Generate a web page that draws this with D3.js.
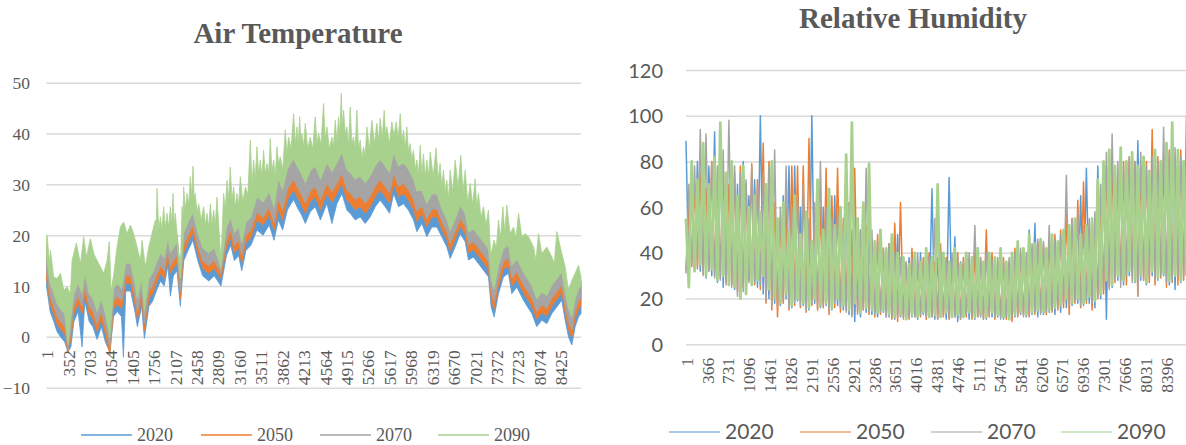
<!DOCTYPE html>
<html>
<head>
<meta charset="utf-8">
<script src="https://cdn.jsdelivr.net/npm/d3@7"></script>
<style>
  body { margin: 0; background: #fff; }
  svg { display: block; }
</style>
</head>
<body>
<svg id="chart" width="1186" height="445"></svg>
<script>
const years = ['2020', '2050', '2070', '2090'];
const colors = ['#5b9bd5', '#ed7d31', '#a5a5a5', '#a9d18e'];

// x axis category labels (hour index)
const tempTicks = d3.range(1, 8761, 351);
const rhTicks = d3.range(1, 8761, 365);
const tempYTicks = [-10, 0, 10, 20, 30, 40, 50];
const rhYTicks = [0, 20, 40, 60, 80, 100, 120];

// ---- Air temperature, lower envelopes ----
const tempLoHours = [1, 60, 120, 175, 230, 300, 352, 400, 450, 520,
  584, 630, 700, 760, 830, 900, 966, 1040, 1100, 1160,
  1230, 1261, 1300, 1380, 1450, 1490, 1560, 1605, 1680, 1740,
  1800, 1870, 1930, 1990, 2031, 2080, 2140, 2194, 2250, 2320,
  2400, 2480, 2560, 2660, 2750, 2860, 2950, 3020, 3080, 3150,
  3200, 3270, 3350, 3450, 3550, 3650, 3730, 3800, 3870, 3950,
  4050, 4105, 4180, 4242, 4323, 4405, 4490, 4596, 4678, 4760,
  4842, 4924, 4978, 5060, 5142, 5224, 5306, 5388, 5469, 5550,
  5623, 5690, 5770, 5852, 5933, 6016, 6070, 6152, 6234, 6316,
  6398, 6479, 6561, 6616, 6698, 6780, 6862, 6916, 6998, 7080,
  7162, 7244, 7287, 7336, 7408, 7489, 7571, 7626, 7708, 7817,
  7900, 7954, 8035, 8118, 8200, 8282, 8364, 8445, 8500, 8555,
  8610, 8664, 8719, 8760];

const tempLo2020 = [10, 5, 3, 1, 0, -1, -3, -2, 3, 5,
  -2, 7, 3, 2, -0.5, 2, -1, -3, 4, 5,
  4, -4, 9, 9, 5, 2, 6, -0.3, 6, 7,
  9, 11, 10, 14, 8, 12, 13, 6, 15, 17,
  19, 15, 12, 11, 12, 10, 16, 18, 15, 16,
  13, 17, 18, 21, 20, 22, 19, 23, 21, 25,
  27, 25.6, 24, 22.3, 24.6, 25.6, 23, 26.2, 22.3, 26.2,
  28.2, 24.9, 24.3, 23, 23.6, 22.3, 23.6, 25.6, 26.9, 25.6,
  24.3, 28.2, 25.6, 26.2, 24.9, 23, 20.7, 22.3, 19.7, 21.6,
  21.6, 19.7, 17.7, 15.4, 17.7, 20.3, 18.7, 15.1, 15.7, 14.4,
  13.1, 11.8, 5.9, 3.9, 8.5, 11.8, 12.5, 8.5, 9.8, 7.2,
  5.6, 4.6, 2, 3.3, 2.6, 4.6, 5.9, 7.2, 3.3, 0,
  -1.6, 2, 3.9, 4.6];

const tempLo2050 = [11.5, 6.5, 4.5, 2.5, 1.5, 0.5, -3, -0.5, 4.5, 6.5,
  4.5, 8.5, 4.5, 3.5, 1, 3.5, 0.5, -3.5, 5.5, 6.5,
  5.5, 7.5, 10.5, 10.5, 6.5, 3.5, 7.5, 1.2, 7.5, 8.5,
  10.5, 12.5, 11.5, 15.5, 12.5, 13.5, 14.5, 7.5, 16.5, 18.5,
  20.5, 16.5, 13.5, 12.5, 13.5, 11.5, 17.5, 19.5, 16.5, 17.5,
  14.5, 18.5, 19.5, 23, 22, 24, 21, 25, 23, 27,
  29, 27.6, 26, 24.3, 26.6, 27.6, 25, 28.2, 26.5, 28.2,
  30.2, 26.9, 26.3, 25, 25.6, 24.3, 25.6, 27.6, 28.9, 27.6,
  26.3, 30.2, 27.6, 28.2, 26.9, 25, 22.7, 24.3, 21.7, 23.6,
  23.6, 21.2, 19.2, 16.9, 19.2, 21.8, 20.2, 16.6, 17.2, 15.9,
  14.6, 13.3, 7.4, 5.4, 10, 13.3, 14, 10, 11.3, 8.7,
  7.1, 6.1, 3.5, 4.8, 4.1, 6.1, 7.4, 8.7, 4.8, 1.5,
  -0.1, 3.5, 5.4, 6.1];

const tempLo2070 = [13, 8, 6, 4, 3, 2, -2.5, 1, 6, 8,
  6, 10, 6, 5, 2.5, 5, 2, -2, 7, 8,
  7, 9, 12, 12, 8, 5, 9, 2.7, 9, 10,
  12, 14, 13, 17, 14, 15, 16, 9, 18, 20,
  22, 18, 15, 14, 15, 12.5, 19, 21, 18, 19,
  16, 20, 21, 24.5, 23.5, 25.5, 22.5, 27, 25, 29,
  31, 29.6, 28, 26.3, 28.6, 29.6, 27, 30.2, 28.5, 30.2,
  32.2, 28.9, 28.3, 27, 27.6, 26.3, 27.6, 29.6, 30.9, 29.6,
  28.3, 32.2, 29.6, 30.2, 28.9, 27, 24.7, 25.8, 23.2, 25.1,
  25.1, 22.7, 20.7, 18.4, 20.7, 23.3, 21.7, 18.1, 18.7, 17.4,
  16.1, 14.8, 8.9, 6.9, 11.5, 14.8, 15.5, 11.5, 12.8, 10.2,
  8.6, 7.6, 5, 6.3, 5.6, 7.6, 8.9, 10.2, 6.3, 3,
  1.4, 5, 6.9, 7.6];

const tempLo2090 = [15.5, 10.5, 8.5, 6.5, 5.5, 4.5, -1.5, 3.5, 8.5, 10.5,
  8.5, 12.5, 8.5, 7.5, 5, 7.5, 4.5, 0, 9.5, 10.5,
  9.5, 11.5, 14.5, 14.5, 10.5, 7.5, 11.5, 5.2, 11.5, 12.5,
  14.5, 16.5, 15.5, 19.5, 16.5, 17.5, 18.5, 11.5, 20.5, 22.5,
  24.5, 20.5, 17.5, 16.5, 17.5, 13.5, 21.5, 23.5, 20.5, 21.5,
  18.5, 22.5, 23.5, 27.5, 26.5, 28.5, 25.5, 31, 29, 33,
  35, 33.6, 32, 30.3, 32.6, 33.6, 31, 34.2, 32.5, 34.2,
  36.2, 32.9, 32.3, 31, 31.6, 30.3, 31.6, 33.6, 34.9, 33.6,
  32.3, 36.2, 33.6, 34.2, 32.9, 31, 28.7, 28.8, 26.2, 28.1,
  28.1, 25.2, 23.2, 20.9, 23.2, 25.8, 24.2, 20.6, 21.2, 19.9,
  18.6, 17.3, 11.4, 9.4, 14, 17.3, 18, 14, 15.3, 12.7,
  11.1, 10.1, 7.5, 8.8, 8.1, 10.1, 11.4, 12.7, 8.8, 5.5,
  3.9, 7.5, 9.4, 10.1];

// upper envelopes of 2020-2070 are hidden under the 2090 band (estimated)
const tempHi2020 = [17, 12, 10, 8, 7, 6, 0, 5, 10, 12,
  10, 14, 10, 9, 6.5, 9, 6, 1.5, 11, 12,
  11, 13, 16, 16, 12, 9, 13, 6.7, 13, 14,
  16, 18, 17, 21, 18, 19, 19.5, 12, 22, 24,
  26, 22, 19, 18, 19, 14, 23, 25, 22, 23,
  20, 24, 25, 29, 28, 30, 27, 32.5, 30.5, 34.5,
  36.5, 35.1, 33.5, 31.8, 34.1, 35.1, 32.5, 35.7, 34, 35.7,
  37.7, 34.4, 33.8, 32.5, 33.1, 31.8, 33.1, 35.1, 36.4, 35.1,
  33.8, 37.7, 35.1, 35.7, 34.4, 32.5, 30.2, 30.3, 27.7, 29.6,
  29.6, 26.7, 24.7, 22.4, 24.7, 27.3, 25.7, 22.1, 22.7, 21.4,
  20.1, 18.8, 12.9, 10.9, 15.5, 18.8, 19.5, 15.5, 16.8, 14.2,
  12.6, 11.6, 9, 10.3, 9.6, 11.6, 12.9, 14.2, 10.3, 7,
  5.4, 9, 10.9, 10.6];

const tempHi2050 = [17.5, 12.5, 10.5, 8.5, 7.5, 6.5, 0.5, 5.5, 10.5, 12.5,
  10.5, 14.5, 10.5, 9.5, 7, 9.5, 6.5, 2, 11.5, 12.5,
  11.5, 13.5, 16.5, 16.5, 12.5, 9.5, 13.5, 7.2, 13.5, 14.5,
  16.5, 18.5, 17.5, 21.5, 18.5, 19.5, 19.8, 12.5, 22.5, 24.5,
  26.5, 22.5, 19.5, 18.5, 19.5, 14.3, 23.5, 25.5, 22.5, 23.5,
  20.5, 24.5, 25.5, 29.5, 28.5, 30.5, 27.5, 33, 31, 35,
  37, 35.6, 34, 32.3, 34.6, 35.6, 33, 36.2, 34.5, 36.2,
  38.2, 34.9, 34.3, 33, 33.6, 32.3, 33.6, 35.6, 36.9, 35.6,
  34.3, 38.2, 35.6, 36.2, 34.9, 33, 30.7, 30.8, 28.2, 30.1,
  30.1, 27.2, 25.2, 22.9, 25.2, 27.8, 26.2, 22.6, 23.2, 21.9,
  20.6, 19.3, 13.4, 11.4, 16, 19.3, 20, 16, 17.3, 14.7,
  13.1, 12.1, 9.5, 10.8, 10.1, 12.1, 13.4, 14.7, 10.8, 7.5,
  5.9, 9.5, 11.4, 10.8];

const tempHi2070 = [18, 13, 11, 9, 8, 7, 1, 6, 11, 13,
  11, 15, 11, 10, 7.5, 10, 7, 2.5, 11.8, 13,
  12, 14, 17, 17, 13, 10, 14, 7.7, 14, 15,
  17, 19, 18, 22, 19, 20, 20, 12.8, 23, 25,
  27, 23, 20, 19, 20, 14.6, 24, 26, 23, 24,
  21, 25, 26, 30, 29, 31, 28, 33.5, 31.5, 35.5,
  37.5, 36.1, 34.5, 32.8, 35.1, 36.1, 33.5, 36.7, 35, 36.7,
  38.7, 35.4, 34.8, 33.5, 34.1, 32.8, 34.1, 36.1, 37.4, 36.1,
  34.8, 38.7, 36.1, 36.7, 35.4, 33.5, 31.2, 31.3, 28.7, 30.6,
  30.6, 27.7, 25.7, 23.4, 25.7, 28.3, 26.7, 23.1, 23.7, 22.4,
  21.1, 19.8, 13.9, 11.9, 16.5, 19.8, 20.5, 16.5, 17.8, 15.2,
  13.6, 12.6, 10, 11.3, 10.6, 12.6, 13.9, 15.2, 11.3, 8,
  6.4, 10, 11.9, 11];

// 2090 upper envelope, spikes and the gaps between them: [hour, value]
const tempHi2090 = [[1, 20], [11, 20], [50, 14.4], [65, 17], [120, 11.8], [175, 11.5], [230, 12.5],
  [284, 9.2], [338, 9.8], [393, 8.5], [420, 15], [490, 18.5], [557, 14.4], [611, 19.7], [655, 15.7],
  [720, 19.3], [775, 16.4], [830, 15], [884, 13.8], [939, 12.5], [993, 15], [1030, 18.7], [1060, 9],
  [1100, 12], [1157, 17.7], [1212, 21.6], [1266, 22.6], [1321, 20.3], [1376, 22], [1430, 20.3],
  [1485, 17.7], [1539, 15], [1567, 19], [1621, 13.8], [1676, 17.7], [1730, 20.3], [1785, 23],
  [1798, 20], [1812, 29.2], [1840, 21], [1867, 23.6], [1894, 21], [1921, 25.6], [1948, 21.5],
  [1976, 24.3], [2003, 21.5], [2031, 25.6], [2052, 22], [2074, 28.2], [2093, 22], [2112, 24.3],
  [2194, 13], [2222, 25.6], [2236, 23], [2249, 29.5], [2276, 25], [2304, 28.2], [2331, 26],
  [2358, 31.5], [2380, 27.5], [2402, 33.6], [2421, 27], [2440, 28.2], [2467, 24.5], [2495, 26.2],
  [2536, 23], [2577, 25.6], [2604, 22], [2631, 24.3], [2658, 21.5], [2686, 26.2], [2713, 22],
  [2740, 24.9], [2767, 22], [2795, 27.5], [2860, 15], [2904, 28.2], [2931, 25], [2959, 30.8],
  [2986, 27], [3013, 33.4], [3040, 27], [3068, 29.5], [3095, 25.5], [3122, 28.2], [3150, 26],
  [3177, 31.5], [3218, 26.5], [3259, 29.5], [3300, 28], [3341, 38.7], [3368, 30], [3395, 34.8],
  [3422, 31], [3450, 37.4], [3477, 32], [3504, 34.8], [3531, 31.5], [3559, 36.7], [3586, 32],
  [3614, 34.1], [3641, 32], [3668, 39], [3695, 32.5], [3723, 34.8], [3750, 31.5], [3777, 37.4],
  [3804, 34], [3832, 35.4], [3873, 33], [3914, 40.7], [3941, 36], [3968, 39.3], [4009, 37],
  [4050, 43.9], [4077, 38], [4105, 41.3], [4127, 38], [4150, 43.3], [4168, 38.5], [4187, 40],
  [4214, 37.5], [4242, 42], [4282, 37], [4323, 39.3], [4364, 37], [4405, 43.3], [4432, 38],
  [4459, 40], [4500, 38], [4541, 45.9], [4568, 39], [4596, 41.3], [4637, 37], [4678, 39.3],
  [4705, 37.5], [4733, 42.6], [4760, 38.5], [4787, 43.3], [4809, 40], [4831, 47.9], [4850, 41],
  [4869, 44.6], [4896, 40], [4924, 41.3], [4951, 37.5], [4978, 45.2], [5005, 38], [5033, 39.3],
  [5060, 37], [5087, 44.6], [5114, 37], [5142, 38.7], [5170, 35], [5197, 37.4], [5224, 35.5],
  [5251, 41.3], [5292, 37], [5333, 42.6], [5374, 38], [5415, 42], [5442, 38.5], [5469, 43],
  [5502, 39], [5535, 44.6], [5557, 39.5], [5579, 41.3], [5620, 38], [5661, 42.3], [5696, 39.5],
  [5732, 42.3], [5764, 39], [5797, 43.9], [5824, 38.5], [5852, 40.7], [5879, 37], [5906, 41.3],
  [5933, 36.5], [5961, 38], [5988, 35], [6016, 36.7], [6043, 33], [6070, 34.8], [6097, 32],
  [6125, 37.7], [6152, 32], [6179, 36], [6206, 31.5], [6234, 34.8], [6261, 31.5], [6289, 36.4],
  [6337, 31.5], [6385, 37.2], [6418, 31], [6452, 34.1], [6479, 29.5], [6507, 32.8], [6534, 28.5],
  [6561, 30.8], [6588, 27], [6616, 32.8], [6657, 28.5], [6698, 34.8], [6745, 29.5], [6791, 35.7],
  [6826, 28.5], [6862, 32.8], [6903, 26.5], [6944, 30.2], [6985, 26], [7025, 31.1], [7052, 25.5],
  [7080, 28.2], [7121, 23.5], [7162, 25.6], [7203, 22], [7244, 24.9], [7280, 16], [7336, 19],
  [7372, 17.5], [7408, 23], [7443, 19.5], [7479, 25.6], [7511, 20.5], [7544, 25.9], [7599, 20.3],
  [7654, 21.6], [7695, 19.5], [7736, 24.3], [7790, 19.7], [7845, 20.3], [7900, 19.7], [7982, 17.7],
  [8022, 15], [8063, 20.3], [8118, 16.4], [8200, 17.7], [8282, 15.7], [8323, 14.5], [8364, 20.7],
  [8445, 16.4], [8500, 13.8], [8555, 9.2], [8610, 11.1], [8664, 12.5], [8719, 14.1], [8760, 11.8]];

// ---- Relative humidity: highs and lows ----
const rhHoursA = d3.range(1, 8760, 100);
const rhHoursB = d3.range(51, 8760, 100);

const rhHi2020 = [89, 75, 80, 70, 78, 93, 85, 72, 80, 70,
  80, 65, 72, 100, 60, 72, 50, 65, 78, 78,
  60, 55, 100, 55, 60, 50, 65, 55, 60, 50,
  55, 45, 48, 40, 44, 38, 40, 48, 35, 38,
  34, 40, 36, 68, 38, 35, 73, 47, 36, 38,
  34, 40, 36, 38, 35, 40, 36, 38, 40, 42,
  50, 53, 45, 42, 46, 44, 48, 50, 52, 65,
  77, 50, 78, 75, 80, 76, 80, 78, 82, 89,
  80, 76, 82, 78, 84, 80, 82, 78];
const rhLo2020 = [30, 33, 32, 29, 30, 27, 25, 28, 24, 22,
  24, 27, 25, 22, 20, 18, 17, 20, 16, 19,
  17, 15, 18, 16, 17, 15, 17, 15, 13, 10,
  12, 14, 13, 12, 14, 12, 11, 12, 11, 12,
  11, 13, 12, 11, 12, 11, 12, 10, 12, 11,
  11, 12, 11, 12, 12, 11, 12, 12, 13, 12,
  13, 12, 13, 14, 13, 14, 16, 17, 18, 17,
  18, 16, 20, 11, 25, 28, 26, 30, 27, 28,
  26, 30, 28, 30, 26, 24, 27, 30];

const rhHi2050 = [60, 70, 75, 68, 80, 72, 78, 70, 75, 78,
  70, 79, 72, 88, 80, 62, 55, 60, 78, 78,
  78, 90, 60, 60, 77, 65, 77, 55, 62, 77,
  50, 52, 45, 48, 42, 44, 53, 62, 36, 42,
  35, 38, 40, 36, 44, 38, 36, 40, 38, 36,
  40, 38, 50, 40, 36, 38, 36, 42, 40, 38,
  42, 45, 44, 46, 48, 50, 58, 55, 63, 71,
  52, 50, 60, 78, 80, 75, 80, 82, 80, 78,
  80, 94, 82, 80, 85, 82, 85, 100];
const rhLo2050 = [32, 34, 33, 31, 32, 30, 29, 27, 26, 23,
  25, 28, 26, 24, 18, 15, 12, 18, 15, 17,
  16, 14, 17, 15, 16, 13, 16, 14, 15, 13,
  14, 15, 13, 12, 13, 12, 11, 10, 12, 11,
  12, 12, 11, 12, 11, 12, 11, 12, 11, 12,
  11, 12, 11, 12, 11, 12, 11, 10, 12, 13,
  12, 13, 14, 13, 14, 15, 16, 13, 18, 16,
  18, 15, 20, 22, 25, 27, 28, 26, 30, 21,
  28, 27, 26, 29, 25, 27, 26, 28];

const rhHi2070 = [70, 78, 94, 92, 80, 78, 85, 98, 78, 75,
  72, 78, 70, 75, 78, 85, 60, 78, 60, 65,
  70, 55, 62, 80, 60, 55, 58, 50, 62, 55,
  50, 77, 50, 45, 42, 44, 40, 38, 36, 38,
  40, 36, 38, 55, 40, 37, 40, 38, 36, 40,
  52, 38, 40, 37, 38, 36, 38, 40, 42, 40,
  44, 46, 45, 52, 46, 48, 74, 55, 58, 52,
  55, 58, 70, 84, 92, 80, 78, 82, 80, 84,
  78, 82, 80, 95, 84, 86, 82, 84];
const rhLo2070 = [31, 35, 34, 30, 32, 29, 28, 26, 25, 21,
  23, 27, 27, 26, 19, 17, 16, 19, 16, 18,
  17, 15, 18, 16, 17, 15, 18, 16, 14, 12,
  13, 15, 14, 13, 14, 12, 12, 12, 11, 12,
  12, 13, 12, 12, 11, 13, 12, 12, 11, 13,
  12, 12, 11, 13, 12, 11, 12, 12, 13, 12,
  13, 14, 13, 14, 15, 16, 18, 17, 19, 17,
  19, 18, 21, 24, 24, 28, 25, 30, 27, 22,
  28, 30, 28, 30, 27, 28, 30, 29];

const rhHi2090 = [55, 80, 72, 88, 70, 82, 97, 75, 80, 65,
  78, 60, 65, 58, 70, 80, 55, 62, 50, 65,
  48, 58, 45, 72, 50, 68, 52, 60, 83, 97,
  55, 62, 79, 45, 50, 42, 48, 40, 38, 35,
  40, 36, 42, 38, 70, 40, 36, 42, 35, 40,
  38, 42, 36, 40, 38, 42, 36, 40, 45, 42,
  48, 44, 46, 42, 48, 45, 50, 52, 55, 48,
  52, 55, 72, 80, 85, 78, 86, 80, 84, 78,
  82, 75, 85, 80, 88, 97, 85, 80];
const rhLo2090 = [25, 32, 35, 30, 33, 28, 30, 26, 25, 20,
  22, 26, 28, 30, 24, 20, 18, 22, 17, 20,
  18, 16, 20, 17, 18, 16, 20, 17, 15, 18,
  14, 16, 15, 14, 15, 13, 12, 13, 11, 13,
  12, 14, 12, 13, 12, 14, 12, 13, 12, 14,
  12, 13, 12, 14, 13, 12, 11, 13, 14, 13,
  14, 15, 14, 15, 16, 17, 20, 18, 20, 18,
  21, 19, 22, 28, 26, 30, 28, 32, 28, 30,
  27, 32, 29, 31, 28, 30, 28, 30];

const pairs = (hours, values) => hours.map((h, i) => [h, values[i]]);

class HourlyChart {
    constructor(_config) {
        this.config = {
            parentElement: _config.parentElement,
            xRange: _config.xRange,
            yRange: _config.yRange,
            yDomain: _config.yDomain,
            yTicks: _config.yTicks,
            xTicks: _config.xTicks,
            yLabelX: _config.yLabelX,
            xLabelGap: _config.xLabelGap,
            yFont: _config.yFont,
            yFontSize: _config.yFontSize,
            title: _config.title,
            titleX: _config.titleX,
            titleY: _config.titleY,
            legendX: _config.legendX,
            legendY: _config.legendY,
            legendFont: _config.legendFont,
            legendFontSize: _config.legendFontSize,
            legendLine: _config.legendLine || 51,
            legendOpacity: _config.legendOpacity || 1
        };
        this.initVis();
    }

    initVis() {
        let vis = this;
        vis.xScale = d3.scaleLinear().domain([1, 8760]).range(vis.config.xRange);
        vis.yScale = d3.scaleLinear().domain(vis.config.yDomain).range(vis.config.yRange);

        vis.svg = d3.select(vis.config.parentElement);
        vis.chart = vis.svg.append('g');

        // gridlines + value labels
        const x0 = vis.config.xRange[0];
        vis.yAxisG = vis.chart.append('g')
            .attr('transform', `translate(${x0},0)`)
            .call(d3.axisLeft(vis.yScale)
                .tickValues(vis.config.yTicks)
                .tickSize(-(vis.config.xRange[1] - x0))
                .tickPadding(x0 - vis.config.yLabelX));
        vis.yAxisG.select('.domain').remove();
        vis.yAxisG.selectAll('line').attr('stroke', '#d9d9d9').attr('stroke-width', 1.5);
        vis.yAxisG.selectAll('text')
            .attr('fill', '#595959')
            .attr('font-family', vis.config.yFont)
            .attr('font-size', vis.config.yFontSize)
            .attr('dy', '0.35em');

        vis.dataG = vis.chart.append('g');

        vis.svg.append('text')
            .attr('x', vis.config.titleX)
            .attr('y', vis.config.titleY)
            .attr('text-anchor', 'middle')
            .attr('font-family', '"Liberation Serif", "Times New Roman", serif')
            .attr('font-weight', 'bold')
            .attr('font-size', 29)
            .attr('fill', '#595959')
            .text(vis.config.title);
    }

    renderBands(series) {
        let vis = this;
        const line = d3.line().x(d => vis.xScale(d[0])).y(d => vis.yScale(d[1]));
        vis.dataG.selectAll('.band')
            .data(series)
            .join('path')
            .attr('class', 'band')
            .attr('d', d => line(d.top.concat(d.bottom.slice().reverse())) + 'Z')
            .attr('fill', d => d.color)
            .attr('stroke', d => d.color)
            .attr('stroke-width', 0.8)
            .attr('stroke-linejoin', 'round');
    }

    renderZigzag(series) {
        let vis = this;
        const line = d3.line().x(d => vis.xScale(d[0])).y(d => vis.yScale(d[1]));
        vis.dataG.selectAll('.trace')
            .data(series)
            .join('path')
            .attr('class', 'trace')
            .attr('d', d => line(d3.sort(d.top.concat(d.bottom), p => p[0])))
            .attr('fill', 'none')
            .attr('stroke', d => d.color)
            .attr('stroke-width', d => d.width)
            .attr('stroke-linejoin', 'round');
    }

    renderAxis() {
        let vis = this;
        const xAxisG = vis.chart.append('g')
            .attr('transform', `translate(0,${vis.yScale(0)})`)
            .call(d3.axisBottom(vis.xScale).tickValues(vis.config.xTicks).tickSize(0).tickFormat(d3.format('d')));
        xAxisG.select('.domain').remove();
        xAxisG.selectAll('text')
            .attr('transform', 'rotate(-90)')
            .attr('text-anchor', 'end')
            .attr('x', -vis.config.xLabelGap)
            .attr('y', 0)
            .attr('dy', '0.35em')
            .attr('fill', '#595959')
            .attr('font-family', '"Liberation Serif", "Times New Roman", serif')
            .attr('font-size', 17.5);
    }

    renderLegend() {
        let vis = this;
        const item = vis.svg.append('g').selectAll('g')
            .data(years)
            .join('g')
            .attr('transform', (d, i) => `translate(${vis.config.legendX[i]},${vis.config.legendY})`);
        item.append('line')
            .attr('x2', vis.config.legendLine)
            .attr('stroke', (d, i) => colors[i])
            .attr('stroke-opacity', vis.config.legendOpacity)
            .attr('stroke-width', 1.5);
        item.append('text')
            .attr('x', vis.config.legendLine + 5)
            .attr('dy', '0.35em')
            .attr('fill', '#595959')
            .attr('font-family', vis.config.legendFont)
            .attr('font-size', vis.config.legendFontSize)
            .text(d => d);
    }
}

const tempChart = new HourlyChart({
    parentElement: '#chart',
    xRange: [46.5, 581],
    yRange: [387.7, 82.7],
    yDomain: [-10, 50],
    yTicks: tempYTicks,
    xTicks: tempTicks,
    yLabelX: 30,
    xLabelGap: 13.5,
    yFont: '"Liberation Serif", "Times New Roman", serif',
    yFontSize: 17.5,
    title: 'Air Temperature',
    titleX: 298,
    titleY: 43,
    legendX: [81, 201, 320, 438],
    legendY: 435,
    legendFont: '"Liberation Serif", "Times New Roman", serif',
    legendFontSize: 18
});
tempChart.renderBands([
    { color: colors[0], top: pairs(tempLoHours, tempHi2020), bottom: pairs(tempLoHours, tempLo2020) },
    { color: colors[1], top: pairs(tempLoHours, tempHi2050), bottom: pairs(tempLoHours, tempLo2050) },
    { color: colors[2], top: pairs(tempLoHours, tempHi2070), bottom: pairs(tempLoHours, tempLo2070) },
    { color: colors[3], top: tempHi2090, bottom: pairs(tempLoHours, tempLo2090) }
]);
tempChart.renderAxis();
tempChart.renderLegend();

const rhChart = new HourlyChart({
    parentElement: '#chart',
    xRange: [686, 1187],
    yRange: [344.3, 70],
    yDomain: [0, 120],
    yTicks: rhYTicks,
    xTicks: rhTicks,
    yLabelX: 663,
    xLabelGap: 13.5,
    yFont: 'Lato, "Open Sans", sans-serif',
    yFontSize: 20,
    title: 'Relative Humidity',
    titleX: 913,
    titleY: 28,
    legendX: [669, 800, 931, 1061],
    legendY: 432,
    legendFont: 'Lato, "Open Sans", sans-serif',
    legendFontSize: 21,
    legendOpacity: 0.7
});
rhChart.renderZigzag([
    { color: colors[0], width: 1.5, top: pairs(rhHoursA, rhHi2020), bottom: pairs(rhHoursB, rhLo2020) },
    { color: colors[1], width: 1.5, top: pairs(rhHoursB, rhHi2050), bottom: pairs(rhHoursA, rhLo2050) },
    { color: colors[2], width: 1.5, top: pairs(rhHoursB, rhHi2070), bottom: pairs(rhHoursA, rhLo2070) },
    { color: colors[3], width: 2.8, top: pairs(rhHoursA, rhHi2090), bottom: pairs(rhHoursB, rhLo2090) }
]);
rhChart.renderAxis();
rhChart.renderLegend();
</script>
</body>
</html>
